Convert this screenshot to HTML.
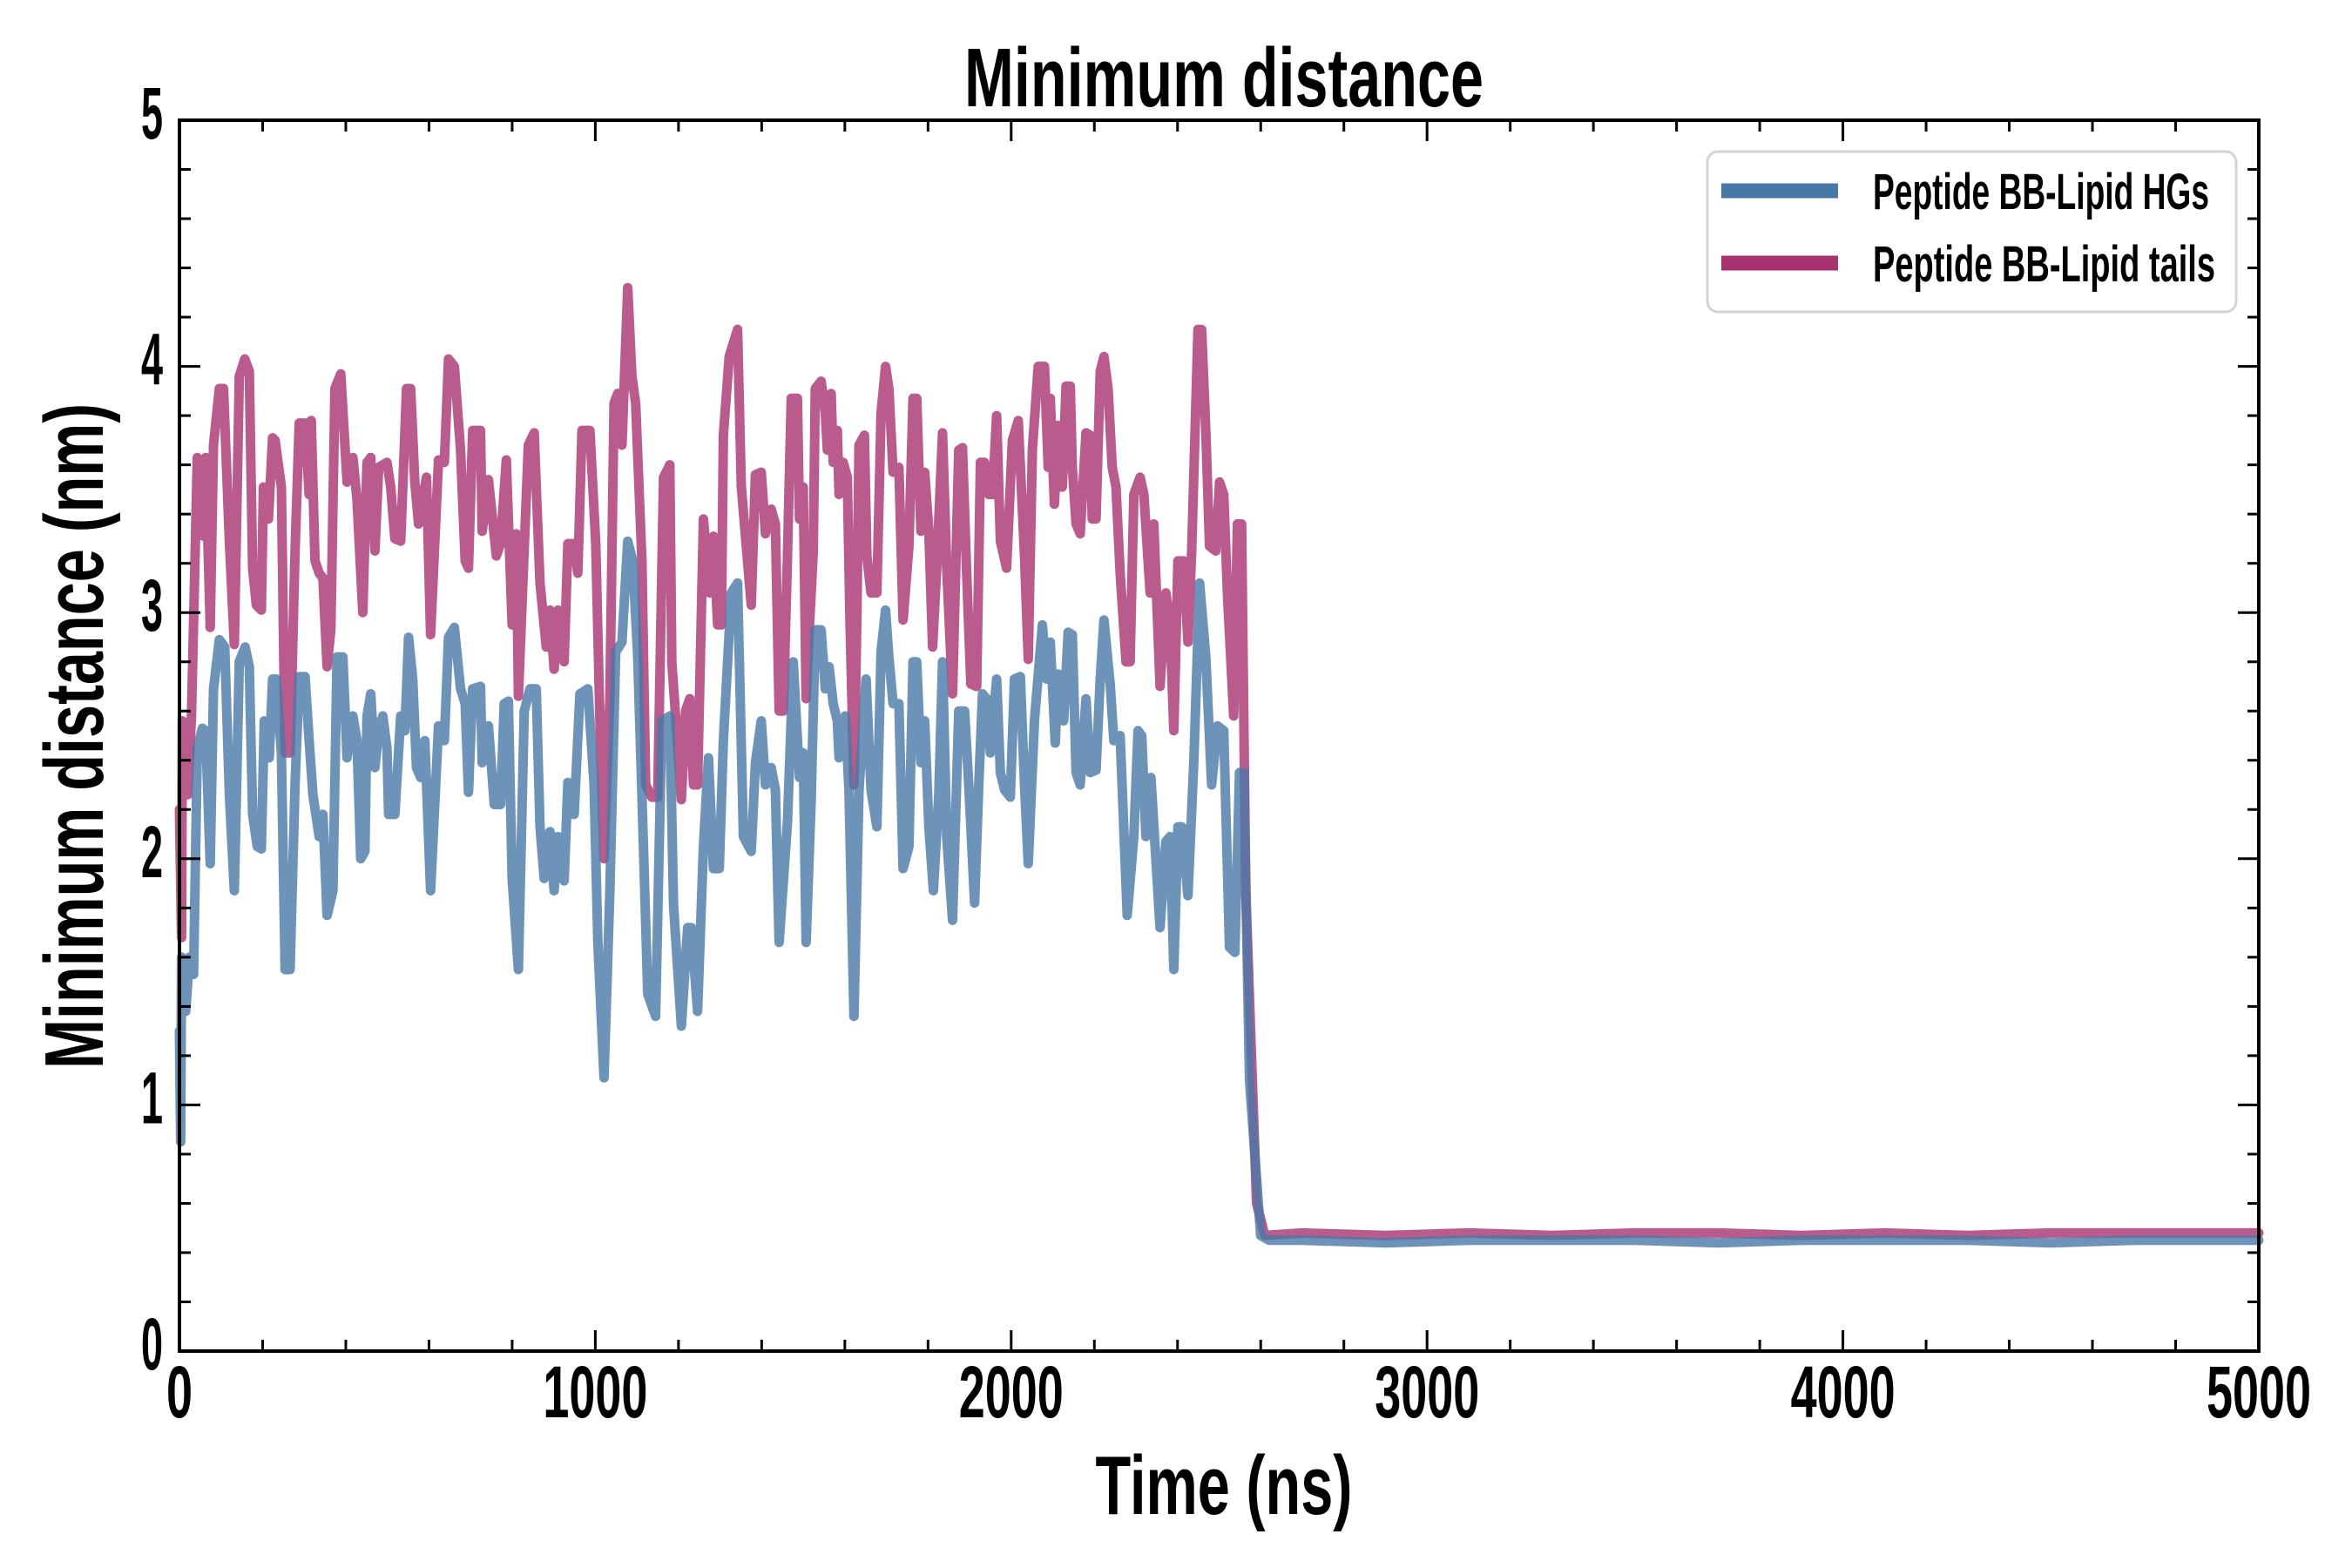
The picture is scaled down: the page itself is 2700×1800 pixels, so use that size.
<!DOCTYPE html>
<html><head><meta charset="utf-8"><style>
html,body{margin:0;padding:0;background:#fff;}
svg{display:block;}
text{font-family:"Liberation Sans Narrow","Liberation Sans",sans-serif;font-weight:bold;fill:#000;}
</style></head><body>
<svg id="chart" width="2700" height="1800" viewBox="0 0 2700 1800" xmlns="http://www.w3.org/2000/svg">
<rect x="0" y="0" width="2700" height="1800" fill="#fff"/>
<g id="series"></g>
<g id="axes"></g>
<text x="1405" y="122" text-anchor="middle" font-size="96" textLength="596" lengthAdjust="spacingAndGlyphs">Minimum distance</text>
<text x="1405" y="1738" text-anchor="middle" font-size="96" textLength="295" lengthAdjust="spacingAndGlyphs">Time (ns)</text>
<text transform="translate(118,845) rotate(-90)" x="0" y="0" text-anchor="middle" font-size="96" textLength="764" lengthAdjust="spacingAndGlyphs">Minimum distance (nm)</text>
<g>
<rect x="1960" y="174" width="607" height="184" rx="12" ry="12" fill="#fff" fill-opacity="0.85" stroke="#d4d4d4" stroke-width="3"/>
<line x1="1976" y1="219" x2="2110" y2="219" stroke="#4878a8" stroke-width="17"/>
<text x="2150" y="240" font-size="58" textLength="386" lengthAdjust="spacingAndGlyphs">Peptide BB-Lipid HGs</text>
<line x1="1976" y1="302" x2="2110" y2="302" stroke="#a83270" stroke-width="17"/>
<text x="2150" y="323" font-size="58" textLength="393" lengthAdjust="spacingAndGlyphs">Peptide BB-Lipid tails</text>
</g>
</svg>
<script>
const xTicks=[0,1000,2000,3000,4000,5000];
const yTicks=[0,1,2,3,4,5];
const xTickLabels=["0","1000","2000","3000","4000","5000"];
const yTickLabels=["0","1","2","3","4","5"];
const tTails=[0,5,7,20,29,43,58,63,74,82,96,106,120,132,144,157,168,176,185,197,202,214,224,230,245,254,266,278,288,302,312,317,326,336,345,355,364,374,388,403,417,427,441,451,460,470,479,499,508,518,532,546,556,566,575,594,604,623,637,647,661,676,687,695,705,724,728,743,762,772,786,800,810,815,829,839,853,867,882,891,901,910,925,934,949,958,968,987,1001,1011,1021,1035,1045,1054,1064,1078,1088,1097,1112,1121,1136,1150,1164,1179,1184,1207,1217,1227,1236,1246,1260,1275,1284,1294,1303,1308,1322,1342,1351,1375,1385,1399,1409,1423,1433,1442,1452,1461,1471,1486,1491,1500,1507,1515,1524,1529,1543,1553,1558,1567,1572,1582,1586,1596,1606,1612,1622,1629,1634,1647,1653,1663,1677,1687,1698,1706,1716,1730,1740,1754,1764,1773,1783,1792,1802,1811,1821,1835,1845,1859,1874,1883,1893,1903,1917,1926,1936,1946,1955,1965,1974,1989,2003,2017,2032,2041,2051,2065,2080,2089,2094,2104,2113,2123,2132,2142,2147,2156,2166,2180,2190,2195,2204,2214,2223,2233,2243,2252,2262,2276,2286,2295,2310,2319,2334,2343,2358,2372,2382,2391,2401,2415,2425,2434,2449,2458,2468,2477,2492,2501,2511,2520,2535,2544,2554,2564,2590,2610,2700,2900,3100,3300,3500,3700,3900,4100,4300,4500,4700,4900,5000];
const vTails=[2.2,1.68,2.56,2.26,2.58,3.63,3.31,3.63,2.94,3.68,3.91,3.91,3.29,2.87,3.96,4.03,3.98,3.18,3.03,3.01,3.51,3.38,3.71,3.70,3.51,2.43,2.43,3.25,3.77,3.77,3.48,3.78,3.21,3.16,3.14,2.78,2.93,3.91,3.97,3.53,3.63,3.46,3.00,3.61,3.63,3.25,3.59,3.61,3.51,3.30,3.29,3.91,3.91,3.53,3.36,3.55,2.91,3.62,3.61,4.03,4.00,3.66,3.21,3.18,3.74,3.74,3.33,3.54,3.23,3.28,3.62,2.95,3.32,2.66,3.26,3.68,3.73,3.12,2.86,3.01,2.77,3.01,2.80,3.28,3.28,3.16,3.74,3.74,3.28,2.56,2.00,2.65,3.85,3.89,3.68,4.32,3.96,3.85,3.21,2.30,2.25,2.25,3.55,3.60,2.80,2.24,2.60,2.65,2.30,2.30,3.38,3.08,3.31,2.95,2.95,3.72,4.04,4.15,3.51,3.03,3.56,3.57,3.32,3.42,3.36,2.60,2.60,3.16,3.87,3.87,3.38,3.51,2.65,2.95,3.25,3.91,3.94,3.81,3.66,3.89,3.61,3.74,3.48,3.61,3.55,2.99,2.30,2.99,3.68,3.72,3.23,3.08,3.08,3.81,4.00,3.91,3.57,3.59,2.97,3.27,3.87,3.87,3.33,3.57,3.33,2.86,3.18,3.73,3.18,2.67,3.66,3.67,3.16,2.71,2.70,3.61,3.61,3.48,3.48,3.80,3.29,3.18,3.70,3.78,3.23,2.81,3.66,4.00,4.00,3.59,3.87,3.44,3.76,3.51,3.92,3.92,3.59,3.36,3.32,3.73,3.72,3.38,3.38,3.98,4.04,3.91,3.59,3.51,3.16,2.80,2.80,3.48,3.55,3.48,3.08,3.36,2.70,3.08,2.95,2.52,3.21,3.21,2.88,3.25,4.15,4.15,3.74,3.27,3.25,3.53,3.48,3.08,2.58,3.36,3.36,1.87,0.60,0.47,0.48,0.47,0.48,0.47,0.48,0.48,0.47,0.48,0.47,0.48,0.48,0.48,0.48];
const tHGs=[0,3,5,15,24,34,43,55,63,74,82,96,109,120,132,144,158,168,176,187,197,204,216,224,233,245,254,266,278,288,302,312,321,336,345,355,369,379,393,403,417,427,436,446,451,460,470,479,489,499,503,518,532,542,551,561,570,580,590,604,623,637,647,661,676,687,695,705,724,728,743,757,772,781,791,800,815,829,843,858,867,877,891,901,910,925,934,949,963,982,997,1006,1021,1035,1049,1064,1078,1090,1102,1112,1126,1145,1160,1179,1188,1207,1222,1231,1246,1260,1272,1284,1298,1308,1327,1342,1356,1375,1385,1399,1409,1423,1433,1442,1462,1476,1491,1500,1507,1519,1529,1543,1553,1562,1572,1582,1586,1601,1610,1622,1634,1651,1663,1677,1687,1698,1706,1716,1730,1740,1754,1764,1773,1783,1792,1802,1813,1826,1835,1845,1859,1874,1888,1898,1912,1922,1931,1941,1950,1965,1974,1984,1998,2008,2022,2032,2041,2056,2075,2085,2094,2106,2113,2126,2137,2147,2156,2166,2180,2190,2204,2214,2223,2238,2247,2262,2279,2295,2305,2314,2324,2336,2358,2372,2382,2391,2401,2410,2425,2439,2453,2468,2482,2496,2511,2525,2538,2549,2559,2573,2600,2620,2700,2900,3100,3300,3500,3700,3900,4100,4300,4500,4700,4900,5000];
const vHGs=[1.3,0.85,1.60,1.38,1.60,1.53,2.45,2.53,2.52,1.98,2.69,2.89,2.86,2.26,1.87,2.80,2.86,2.78,2.18,2.05,2.04,2.56,2.41,2.73,2.73,2.43,1.55,1.55,2.30,2.74,2.74,2.48,2.26,2.09,2.18,1.77,1.87,2.82,2.82,2.41,2.58,2.48,2.00,2.03,2.58,2.67,2.37,2.52,2.58,2.45,2.18,2.18,2.58,2.52,2.90,2.73,2.37,2.33,2.48,1.87,2.54,2.48,2.90,2.94,2.69,2.63,2.27,2.69,2.70,2.39,2.54,2.22,2.22,2.63,2.64,1.92,1.55,2.60,2.69,2.69,2.13,1.92,2.11,1.87,2.09,1.91,2.31,2.18,2.67,2.69,2.30,1.66,1.11,1.87,2.84,2.88,3.29,3.21,2.82,2.26,1.45,1.36,2.56,2.58,1.81,1.32,1.72,1.72,1.38,2.05,2.41,1.96,1.96,2.48,3.08,3.12,2.09,2.03,2.39,2.56,2.30,2.37,2.28,1.66,2.15,2.80,2.33,2.43,1.66,2.24,2.93,2.93,2.69,2.78,2.63,2.56,2.41,2.58,2.28,1.36,2.28,2.73,2.28,2.13,2.84,3.01,2.82,2.63,2.63,1.96,2.05,2.80,2.80,2.39,2.56,2.13,1.87,2.26,2.80,2.09,1.75,2.60,2.60,2.30,1.82,2.30,2.67,2.65,2.43,2.73,2.35,2.28,2.25,2.73,2.74,2.30,1.98,2.56,2.95,2.73,2.88,2.47,2.75,2.56,2.92,2.91,2.35,2.30,2.65,2.35,2.36,2.73,2.97,2.71,2.48,2.50,1.77,2.09,2.52,2.50,2.09,2.33,1.72,2.07,2.09,1.55,2.13,2.13,1.85,2.39,3.12,2.82,2.30,2.54,2.52,1.64,1.62,2.35,2.35,1.10,0.47,0.45,0.45,0.44,0.45,0.45,0.45,0.44,0.45,0.45,0.45,0.44,0.45,0.45,0.45];

const X0=206,X1=2593,Y0=1551,Y1=138;
const XMAX=5000,YMAX=5;
function xs(t){return X0+(t/XMAX)*(X1-X0);}
function ys(v){return Y0-(v/YMAX)*(Y0-Y1);}
const NS="http://www.w3.org/2000/svg";
const series=document.getElementById('series');
const axes=document.getElementById('axes');

function drawLine(ts,vs,color,name){
  let d="";
  for(let i=0;i<ts.length;i++){d+=(i?"L":"M")+xs(ts[i]).toFixed(1)+","+ys(vs[i]).toFixed(1);}
  const p=document.createElementNS(NS,'path');
  p.setAttribute('d',d);
  p.setAttribute('fill','none');
  p.setAttribute('stroke',color);
  p.setAttribute('stroke-opacity','0.8');
  p.setAttribute('stroke-width','11');
  p.setAttribute('stroke-linejoin','round');
  p.setAttribute('stroke-linecap','round');
  
  
  series.appendChild(p);
}
drawLine(tTails,vTails,'#a83270','line-lipid-tails');
drawLine(tHGs,vHGs,'#4878a8','line-lipid-hgs');

function mk(tag,attrs){const e=document.createElementNS(NS,tag);for(const k in attrs)e.setAttribute(k,attrs[k]);axes.appendChild(e);return e;}
for(let t=0;t<=XMAX;t+=200){
  const major=(t%1000===0);const L=major?24:13;const x=xs(t);
  const a=mk('line',{x1:x,y1:Y0,x2:x,y2:Y0-L,stroke:'#000','stroke-width':3});
  
  
  const b=mk('line',{x1:x,y1:Y1,x2:x,y2:Y1+L,stroke:'#000','stroke-width':3});
  
  
}
for(let k=0;k<=25;k++){
  const v=k*0.2;const major=(k%5===0);const L=major?24:13;const y=ys(v);
  const a=mk('line',{x1:X0,y1:y,x2:X0+L,y2:y,stroke:'#000','stroke-width':3});
  
  
  const b=mk('line',{x1:X1,y1:y,x2:X1-L,y2:y,stroke:'#000','stroke-width':3});
  
  
}
const frame=mk('rect',{x:X0,y:Y1,width:X1-X0,height:Y0-Y1,fill:'none',stroke:'#000','stroke-width':4});


xTicks.forEach((t,i)=>{
  const lab=xTickLabels[i];
  const e=mk('text',{x:xs(t),y:Y0+76,'text-anchor':'middle','font-size':84,textLength:30*lab.length,lengthAdjust:'spacingAndGlyphs'});
  e.textContent=lab;
  
  
});
yTicks.forEach((v,i)=>{
  const e=mk('text',{x:187,y:ys(v)+21,'text-anchor':'end','font-size':84,textLength:25,lengthAdjust:'spacingAndGlyphs'});
  e.textContent=yTickLabels[i];
  
  
});
</script>
</body></html>
